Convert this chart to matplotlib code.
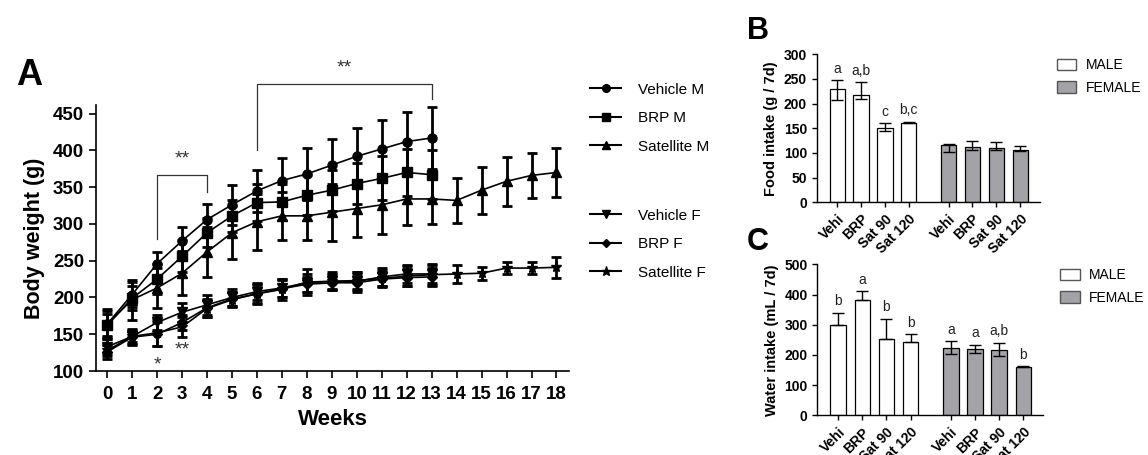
import numpy as np
import matplotlib
matplotlib.use('Agg')
import matplotlib.pyplot as plt
from matplotlib.lines import Line2D
from matplotlib.patches import Patch

plt.rcParams['font.family'] = ['Liberation Sans', 'DejaVu Sans']

# === PANEL A: BODY WEIGHT ===
weeks_m = list(range(14))
weeks_sat = list(range(19))

veh_m = [164, 204, 246, 277, 306, 326, 345, 359, 368, 380, 392, 402, 412, 417]
veh_m_sd = [20, 17, 16, 19, 21, 27, 29, 31, 35, 36, 38, 39, 40, 42]
brp_m = [162, 199, 225, 256, 288, 311, 329, 330, 339, 346, 355, 362, 370, 367]
brp_m_sd = [15, 16, 20, 22, 20, 22, 25, 25, 27, 28, 28, 30, 32, 33]
sat_m = [164, 197, 213, 233, 262, 288, 303, 311, 311, 316, 321, 326, 334, 334, 332, 346, 358, 366, 370]
sat_m_sd = [18, 27, 27, 30, 34, 36, 38, 33, 33, 39, 39, 40, 35, 34, 31, 32, 33, 31, 33]

veh_f = [133, 147, 166, 180, 190, 200, 208, 213, 220, 222, 222, 228, 232, 232]
veh_f_sd = [10, 8, 10, 13, 14, 12, 12, 12, 12, 10, 12, 12, 12, 12]
brp_f = [126, 146, 150, 166, 186, 198, 205, 212, 218, 220, 220, 225, 227, 228]
brp_f_sd = [10, 10, 16, 10, 12, 10, 12, 12, 10, 10, 12, 10, 12, 12]
sat_f = [128, 147, 152, 160, 185, 197, 205, 211, 221, 222, 223, 226, 229, 231, 232, 233, 240, 240, 241]
sat_f_sd = [8, 10, 18, 14, 12, 10, 14, 14, 18, 12, 12, 12, 14, 14, 12, 9, 8, 8, 14]

# === PANELS B/C: INTAKE ===
groups = ['Vehi', 'BRP', 'Sat 90', 'Sat 120']
food_male = [229, 217, 151, 161]
food_male_err = [[22, 8, 6, 1], [18, 26, 9, 2]]
food_female = [116, 112, 110, 106]
food_female_err = [[14, 5, 5, 3], [3, 12, 12, 9]]
food_letters = ['a', 'a,b', 'c', 'b,c']

water_male = [298, 381, 253, 242]
water_male_err = [[0, 0, 0, 0], [42, 29, 67, 26]]
water_female = [224, 219, 217, 161]
water_female_err = [[21, 14, 20, 0], [21, 14, 23, 1]]
water_male_letters = ['b', 'a', 'b', 'b']
water_female_letters = ['a', 'a', 'a,b', 'b']

fig = plt.figure(figsize=(11.48, 4.55), dpi=100)

# --- panel A ---
axA = fig.add_axes([0.0836, 0.1846, 0.412, 0.585])
series = [
    (weeks_m, veh_m, veh_m_sd, 'o', 'Vehicle M'),
    (weeks_m, brp_m, brp_m_sd, 's', 'BRP M'),
    (weeks_sat, sat_m, sat_m_sd, '^', 'Satellite M'),
    (weeks_m, veh_f, veh_f_sd, 'v', 'Vehicle F'),
    (weeks_m, brp_f, brp_f_sd, 'D', 'BRP F'),
    (weeks_sat, sat_f, sat_f_sd, '*', 'Satellite F'),
]
handles = []
for x, y, e, mk, lab in series:
    ms = 5 if mk == 'D' else (8 if mk == '*' else 6.5)
    axA.errorbar(x, y, yerr=e, fmt='-' + mk, color='black', lw=1.2,
                 elinewidth=2, capsize=3.5, capthick=2, markersize=ms)
    handles.append(Line2D([0], [0], color='black', lw=1.5, marker=mk,
                          markersize=ms * 0.85, label=lab))

axA.set_xlim(-0.45, 18.5)
axA.set_ylim(100, 462)
axA.set_xticks(range(19))
axA.set_yticks(range(100, 451, 50))
for s in ['top', 'right']:
    axA.spines[s].set_visible(False)
for s in ['left', 'bottom']:
    axA.spines[s].set_linewidth(1.2)
axA.tick_params(direction='out', width=1.2, length=5, labelsize=13.5)
axA.tick_params(axis='x', pad=6)
for t in axA.get_xticklabels() + axA.get_yticklabels():
    t.set_fontweight('bold')
axA.set_xlabel('Weeks', fontsize=16, fontweight='bold', labelpad=4)
axA.set_ylabel('Body weight (g)', fontsize=15.5, fontweight='bold', labelpad=6)

# significance brackets
sig_col = '#333333'
axA.plot([2, 2, 4, 4], [280, 367, 367, 344], color=sig_col, lw=0.9, clip_on=False)
axA.text(3, 388, '**', ha='center', va='center', fontsize=14, color=sig_col)
axA.plot([6, 6, 13, 13], [401, 491, 491, 470], color=sig_col, lw=0.9, clip_on=False)
axA.text(9.5, 512, '**', ha='center', va='center', fontsize=14, color=sig_col)
axA.text(2, 108, '*', ha='center', va='center', fontsize=14, color=sig_col)
axA.text(3, 129, '**', ha='center', va='center', fontsize=14, color=sig_col)

legkw = dict(loc='upper left', frameon=False, fontsize=11, handlelength=2.0,
             labelspacing=0.95, handletextpad=1.1, borderaxespad=0)
fig.legend(handles=handles[:3], bbox_to_anchor=(0.509, 0.832), **legkw)
fig.legend(handles=handles[3:], bbox_to_anchor=(0.509, 0.555), **legkw)

fig.text(0.025, 0.835, 'A', fontsize=26, fontweight='bold', ha='center', va='center')
fig.text(0.66, 0.932, 'B', fontsize=22, fontweight='bold', ha='center', va='center')
fig.text(0.66, 0.468, 'C', fontsize=22, fontweight='bold', ha='center', va='center')

# --- panels B and C ---
pos_m = np.arange(4)
pos_f = np.arange(4) + 4.67
female_col = '#a3a3a7'


def bar_panel(ax, male, male_err, female, female_err, ymax, ystep, ylabel,
              male_letters, female_letters):
    ax.bar(pos_m, male, width=0.64, color='white', edgecolor='black', lw=0.9)
    ax.bar(pos_f, female, width=0.64, color=female_col, edgecolor='black', lw=0.9)
    ax.errorbar(pos_m, male, yerr=male_err, fmt='none', ecolor='black',
                elinewidth=1, capsize=4, capthick=1)
    ax.errorbar(pos_f, female, yerr=female_err, fmt='none', ecolor='black',
                elinewidth=1, capsize=4, capthick=1)
    off = ymax * 0.03
    for i, lab in enumerate(male_letters):
        ax.text(pos_m[i], male[i] + male_err[1][i] + off, lab, ha='center',
                va='bottom', fontsize=10, color='#222222')
    for i, lab in enumerate(female_letters):
        ax.text(pos_f[i], female[i] + female_err[1][i] + off, lab, ha='center',
                va='bottom', fontsize=10, color='#222222')
    ax.set_xlim(-0.86, 8.5)
    ax.set_ylim(0, ymax)
    ax.set_yticks(range(0, ymax + 1, ystep))
    ax.set_xticks(list(pos_m) + list(pos_f))
    ax.set_xticklabels(groups * 2, rotation=45, ha='right', rotation_mode='anchor',
                       fontsize=9.5, fontweight='bold')
    for s in ['top', 'right']:
        ax.spines[s].set_visible(False)
    for s in ['left', 'bottom']:
        ax.spines[s].set_linewidth(1)
    ax.tick_params(direction='out', width=1, length=3.5, labelsize=10)
    for t in ax.get_yticklabels():
        t.set_fontweight('bold')
    ax.set_ylabel(ylabel, fontsize=10.5, fontweight='bold')
    ax.legend(handles=[Patch(facecolor='white', edgecolor='#555555', label='MALE'),
                       Patch(facecolor=female_col, edgecolor='#555555', label='FEMALE')],
              loc='upper left', bbox_to_anchor=(1.05, 1.01), frameon=False,
              fontsize=10, handlelength=1.4, handleheight=0.9, labelspacing=0.6,
              handletextpad=0.7, borderaxespad=0)


axB = fig.add_axes([0.7114, 0.5554, 0.1945, 0.3253])
bar_panel(axB, food_male, food_male_err, food_female, food_female_err, 300, 50,
          'Food intake (g / 7d)', food_letters, [''] * 4)

axC = fig.add_axes([0.7120, 0.0872, 0.1968, 0.3319])
bar_panel(axC, water_male, water_male_err, water_female, water_female_err, 500, 100,
          'Water intake (mL / 7d)', water_male_letters, water_female_letters)

fig.savefig('out.png', dpi=100)
